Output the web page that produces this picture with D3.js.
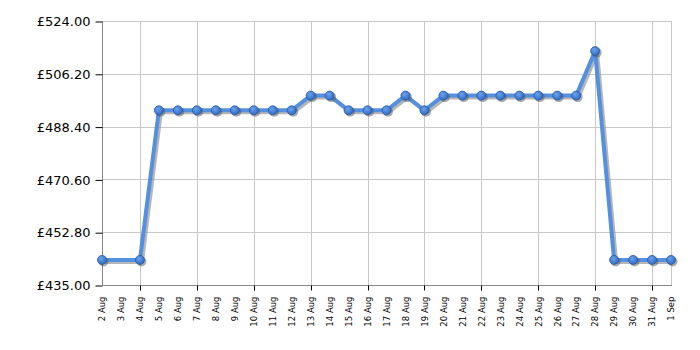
<!DOCTYPE html>
<meta charset="utf-8">
<head>
  <style>
    body { margin:0; background:#fff; }
    text { font-family: "DejaVu Sans", Verdana, sans-serif; }
  </style>
  <script src="https://d3js.org/d3.v7.min.js"></script>
</head>
<body>
<svg id="chart" width="700" height="350"></svg>
<script>
  // price points (no reading on 3 Aug)
  var dates = ["2024-08-02","2024-08-04","2024-08-05","2024-08-06","2024-08-07","2024-08-08","2024-08-09",
    "2024-08-10","2024-08-11","2024-08-12","2024-08-13","2024-08-14","2024-08-15","2024-08-16","2024-08-17",
    "2024-08-18","2024-08-19","2024-08-20","2024-08-21","2024-08-22","2024-08-23","2024-08-24","2024-08-25",
    "2024-08-26","2024-08-27","2024-08-28","2024-08-29","2024-08-30","2024-08-31","2024-09-01"]
  var prices = [443.45, 443.45, 493.9, 493.9, 493.9, 493.9, 493.9,
    493.9, 493.9, 493.9, 498.85, 498.85, 493.9, 493.9, 493.9,
    498.85, 493.9, 498.85, 498.85, 498.85, 498.85, 498.85, 498.85,
    498.85, 498.85, 513.85, 443.45, 443.45, 443.45, 443.45]
  var yTicks = [435, 452.8, 470.6, 488.4, 506.2, 524]
  var gridDates = ["2024-08-04","2024-08-07","2024-08-10","2024-08-13","2024-08-16","2024-08-19",
    "2024-08-22","2024-08-25","2024-08-28","2024-08-31"]

  var parse = d3.utcParse("%Y-%m-%d")
  var data = dates.map(function (d, i) { return { date: parse(d), price: prices[i] } })

  var pLeft = 102, pRight = 671, pTop = 21, pBottom = 285
  var svg = d3.select("#chart")

  var x = d3.scaleUtc().domain([parse("2024-08-02"), parse("2024-09-01")]).range([pLeft, pRight])
  var y = d3.scaleLinear().domain([435, 524]).range([pBottom, pTop])

  // gradient for markers
  var defs = svg.append("defs")
  var grad = defs.append("radialGradient").attr("id", "dot").attr("cx", "40%").attr("cy", "35%").attr("r", "65%")
  grad.append("stop").attr("offset", "0%").attr("stop-color", "#6aa2ec")
  grad.append("stop").attr("offset", "100%").attr("stop-color", "#2f6cc4")

  // grid
  svg.append("g").selectAll("line").data(yTicks.slice(1)).enter().append("line")
    .attr("x1", pLeft).attr("x2", pRight)
    .attr("y1", function (d) { return Math.round(y(d)) + 0.5 })
    .attr("y2", function (d) { return Math.round(y(d)) + 0.5 })
    .attr("stroke", "#c8c8c8")
  svg.append("g").selectAll("line").data(gridDates.concat(["2024-09-01"])).enter().append("line")
    .attr("x1", function (d) { return Math.round(x(parse(d))) + 0.5 })
    .attr("x2", function (d) { return Math.round(x(parse(d))) + 0.5 })
    .attr("y1", pTop).attr("y2", pBottom)
    .attr("stroke", "#c8c8c8")

  // y axis
  var yAxis = d3.axisLeft(y).tickValues(yTicks).tickSize(7).tickPadding(5)
    .tickFormat(function (d) { return "£" + d.toFixed(2) })
  var gy = svg.append("g").attr("transform", "translate(" + (pLeft + 0.5) + ",0.5)").call(yAxis)
  gy.select(".domain").attr("stroke", "#888").attr("d", "M0," + pTop + "V" + pBottom)
  gy.selectAll(".tick line").attr("stroke", "#000")
  gy.selectAll("text").attr("font-size", "13px").attr("fill", "#000").attr("font-family", "DejaVu Sans")

  // x axis
  var allDays = d3.utcDay.range(parse("2024-08-02"), d3.utcDay.offset(parse("2024-09-01"), 1))
  var gx = svg.append("g").attr("transform", "translate(0," + (pBottom + 0.5) + ")")
  gx.append("line").attr("x1", pLeft).attr("x2", pRight + 1).attr("stroke", "#888")
  gx.selectAll(".tk").data(gridDates.map(parse)).enter().append("line")
    .attr("x1", function (d) { return Math.round(x(d)) + 0.5 })
    .attr("x2", function (d) { return Math.round(x(d)) + 0.5 })
    .attr("y1", 0).attr("y2", 5).attr("stroke", "#000")
  gx.selectAll("text").data(allDays).enter().append("text")
    .attr("transform", function (d) { return "translate(" + (x(d) + 0.5) + ",11) rotate(-90)" })
    .attr("text-anchor", "end").attr("dy", "0.33em")
    .attr("font-size", "8.5px").attr("fill", "#000")
    .text(d3.utcFormat("%-d %b"))

  // line with shadow
  var line = d3.line().x(function (d) { return x(d.date) }).y(function (d) { return y(d.price) })
  svg.append("path").datum(data).attr("d", line).attr("fill", "none")
    .attr("stroke", "#999").attr("stroke-opacity", 0.7).attr("stroke-width", 4)
    .attr("stroke-linejoin", "round").attr("transform", "translate(2,2)")
  svg.append("path").datum(data).attr("d", line).attr("fill", "none")
    .attr("stroke", "#5590e0").attr("stroke-width", 4).attr("stroke-linejoin", "round")

  // markers
  svg.append("g").selectAll("circle.sh").data(data).enter().append("circle")
    .attr("cx", function (d) { return x(d.date) + 1.5 })
    .attr("cy", function (d) { return y(d.price) + 1.5 })
    .attr("r", 5).attr("fill", "#555").attr("opacity", 0.5)
  svg.append("g").selectAll("circle.pt").data(data).enter().append("circle")
    .attr("cx", function (d) { return x(d.date) })
    .attr("cy", function (d) { return y(d.price) })
    .attr("r", 4.5).attr("fill", "url(#dot)").attr("stroke", "#2a5aa8").attr("stroke-width", 0.8)
</script>
</body>
